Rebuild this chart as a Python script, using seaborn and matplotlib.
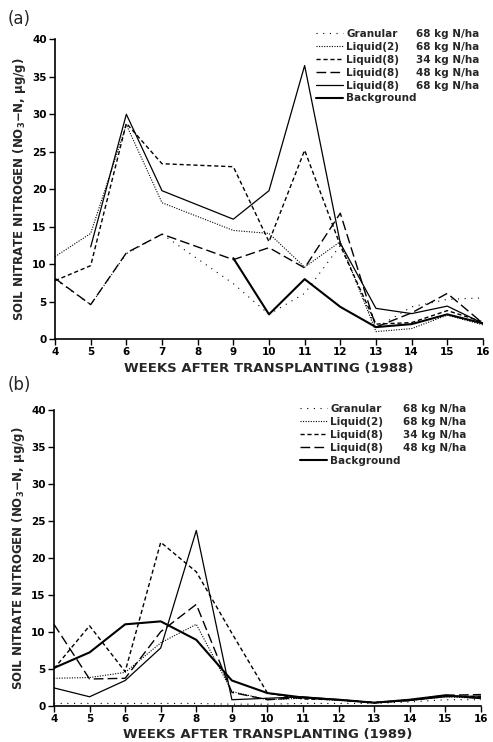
import numpy as np
import pandas as pd
import matplotlib
matplotlib.use("Agg")
import matplotlib.pyplot as plt
from matplotlib.lines import Line2D
import seaborn as sns

# 1988 (no sampling in week 8)
weeks_a = [4, 5, 6, 7, 9, 10, 11, 12, 13, 14, 15, 16]
gran_a = [8.0, 4.6, 11.4, 14.0, 7.4, 3.3, 6.1, 12.5, 1.5, 4.3, 5.3, 5.5]
liq2_a = [11.0, 14.1, 28.6, 18.2, 14.5, 14.1, 9.6, 13.0, 1.0, 1.4, 3.2, 1.9]
liq8_34_a = [7.8, 9.8, 28.8, 23.4, 23.0, 13.0, 25.2, 12.5, 2.0, 2.2, 3.8, 2.3]
liq8_48_a = [8.1, 4.6, 11.5, 14.0, 10.6, 12.2, 9.5, 16.8, 1.6, 3.5, 6.1, 2.1]
weeks_a68 = [5, 6, 7, 9, 10, 11, 12, 13, 14, 15, 16]
liq8_68_a = [12.3, 30.0, 19.8, 16.0, 19.8, 36.5, 12.8, 4.1, 3.4, 4.4, 2.1]
weeks_abg = [9, 10, 11, 12, 13, 14, 15, 16]
bg_a = [10.8, 3.3, 8.0, 4.3, 1.6, 2.0, 3.3, 2.1]

# 1989
weeks_b = [4, 5, 6, 7, 8, 9, 10, 11, 12, 13, 14, 15, 16]
gran_b = [0.3, 0.3, 0.3, 0.3, 0.3, 0.2, 0.2, 0.3, 0.3, 0.3, 0.5, 0.8, 0.8]
liq2_b = [3.7, 3.8, 4.5, 8.5, 11.0, 1.9, 0.8, 1.0, 0.7, 0.4, 0.7, 1.2, 1.0]
liq8_34_b = [5.0, 10.8, 4.6, 22.1, 18.1, 9.8, 1.7, 0.9, 0.8, 0.4, 0.8, 1.3, 1.2]
liq8_48_b = [11.0, 3.6, 3.7, 10.0, 13.7, 1.8, 0.8, 1.1, 0.8, 0.4, 0.7, 1.4, 1.5]
bg_b = [5.1, 7.2, 11.0, 11.4, 8.9, 3.4, 1.7, 1.1, 0.8, 0.4, 0.8, 1.4, 1.0]
extra_b = [2.4, 1.2, 3.4, 7.8, 23.7, 0.8, 1.0, 1.2, 0.8, 0.4, 0.7, 1.2, 1.3]

names = ["Granular", "Liquid(2)", "Liquid(8)", "Liquid(8)", "Liquid(8)", "Background"]
rates = ["68 kg N/ha", "68 kg N/ha", "34 kg N/ha", "48 kg N/ha", "68 kg N/ha", ""]

styles = [
    dict(linestyle=(0, (1, 5)), lw=0.8),
    dict(linestyle=(0, (1, 1.3)), lw=0.8),
    dict(linestyle=(0, (3, 2)), lw=1.0),
    dict(linestyle=(0, (7, 3)), lw=1.0),
    dict(linestyle="-", lw=0.9),
    dict(linestyle="-", lw=1.5),
]

sns.set_style("ticks")
plt.rcParams["font.family"] = ["DejaVu Sans"]
plt.rcParams["font.weight"] = "bold"

fig = plt.figure(figsize=(4.93, 7.42), dpi=100)
ax_a = fig.add_axes([0.1116, 0.543, 0.868, 0.404])
ax_b = fig.add_axes([0.1095, 0.049, 0.866, 0.3985])

series_a = [(weeks_a, gran_a), (weeks_a, liq2_a), (weeks_a, liq8_34_a),
            (weeks_a, liq8_48_a), (weeks_a68, liq8_68_a), (weeks_abg, bg_a)]
for (w, v), st in zip(series_a, styles):
    sns.lineplot(x=w, y=v, ax=ax_a, color="black", **st)

series_b = [gran_b, liq2_b, liq8_34_b, liq8_48_b, None, bg_b]
for v, st in zip(series_b, styles):
    if v is None:
        continue
    sns.lineplot(x=weeks_b, y=v, ax=ax_b, color="black", **st)
sns.lineplot(x=weeks_b, y=extra_b, ax=ax_b, color="black", **styles[4])


def finish(ax, year, idx, anchor_x, rate_x, top):
    ax.set_xlim(4, 16)
    ax.set_ylim(0, 40)
    ax.set_xticks(range(4, 17))
    ax.set_yticks(range(0, 41, 5))
    for s in ["top", "right"]:
        ax.spines[s].set_visible(False)
    for s in ["left", "bottom"]:
        ax.spines[s].set_linewidth(1.2)
        ax.spines[s].set_color("black")
    ax.tick_params(length=4, width=1, labelsize=7.5, pad=2, colors="black")
    ax.set_xlabel("WEEKS AFTER TRANSPLANTING (%d)" % year, fontsize=9.5,
                  fontweight="bold", labelpad=3)
    ax.set_ylabel(r"SOIL NITRATE NITROGEN (NO$_\mathbf{3}$$-$N, $\mathbf{\mu}$g/g)",
                  fontsize=8.5, fontweight="bold", labelpad=3)
    handles = [Line2D([], [], color="black", **styles[i]) for i in idx]
    leg1 = ax.legend(handles, [names[i] for i in idx], loc="upper left",
                     bbox_to_anchor=(anchor_x, top), frameon=False,
                     fontsize=7.5, handlelength=2.6, handletextpad=0.3,
                     labelspacing=0.28, borderpad=0, borderaxespad=0)
    ax.add_artist(leg1)
    blanks = [Line2D([], [], color="none") for i in idx]
    ax.legend(blanks, [rates[i] for i in idx], loc="upper left",
              bbox_to_anchor=(rate_x, top), frameon=False, fontsize=7.5,
              handlelength=0, handletextpad=0, labelspacing=0.28,
              borderpad=0, borderaxespad=0)


finish(ax_a, 1988, [0, 1, 2, 3, 4, 5], 0.61, 0.843, 1.035)
finish(ax_b, 1989, [0, 1, 2, 3, 5], 0.576, 0.817, 1.02)

fig.text(0.016, 0.968, "(a)", fontsize=12, fontweight="normal")
fig.text(0.016, 0.475, "(b)", fontsize=12, fontweight="normal")

fig.savefig("out.png", dpi=100)
